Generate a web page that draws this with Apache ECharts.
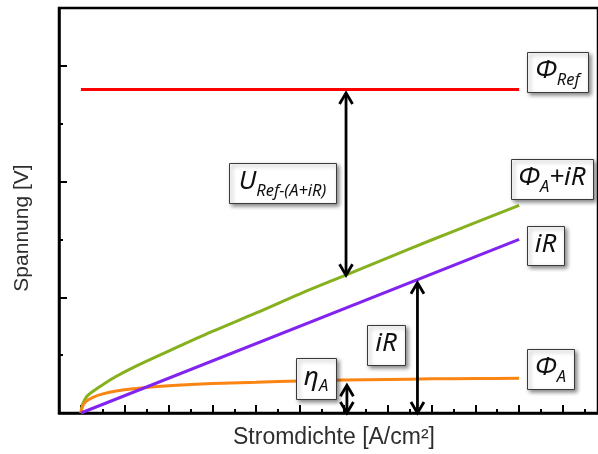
<!DOCTYPE html>
<html>
<head>
<meta charset="utf-8">
<script src="https://cdn.jsdelivr.net/npm/echarts@6/dist/echarts.min.js"></script>
<style>
  html, body { margin: 0; padding: 0; background: #fff; }
  #chart { width: 598px; height: 454px; }
</style>
</head>
<body>
<div id="chart"></div>
<script>
// Stromdichte-Stützstellen der gekrümmten Kurven
const currentPts = [0, 0.03, 0.08, 0.15, 0.3, 0.5, 0.8, 1.2, 2, 3, 4, 5, 6, 7, 8, 9, 10];
// Anodenpotential Φ_A
const phiA = [0, 0.1, 0.17, 0.22, 0.28, 0.33, 0.38, 0.42, 0.47, 0.51, 0.53, 0.555, 0.57, 0.58, 0.59, 0.595, 0.6];
// Φ_A + iR
const phiAiR = [0, 0.13, 0.22, 0.3, 0.39, 0.49, 0.63, 0.79, 1.07, 1.41, 1.73, 2.06, 2.37, 2.68, 2.99, 3.29, 3.59];
// ohmscher Spannungsabfall iR
const iRx = [0, 10];
const iRy = [0, 3.0];
// Referenzpotential Φ_Ref
const refX = [0, 10];
const refY = [5.59, 5.59];
// Doppelpfeile: Lage und Endpunkte
const arrowX = [6.05, 7.68, 6.07];
const arrowLow = [2.38, 0, 0];
const arrowHigh = [5.53, 2.25, 0.48];
// Achsenstriche
const xMajorTicks = [0, 1, 2, 3, 4, 5, 6, 7, 8, 9, 10, 11];
const xMinorTicks = [0.5, 1.5, 2.5, 3.5, 4.5, 5.5, 6.5, 7.5, 8.5, 9.5, 10.5, 11.5];
const yMajorTicks = [0, 2, 4, 6];
const yMinorTicks = [1, 3, 5, 7];

const chart = echarts.init(document.getElementById('chart'));

const pair = (xs, ys) => xs.map((x, i) => [x, ys[i]]);

// text measuring for the boxed annotations
const ctx = document.createElement('canvas').getContext('2d');
const LABEL_FONT = '"Noto Sans"';
function textWidth(t, size) {
  ctx.font = 'italic ' + size + 'px ' + LABEL_FONT;
  return ctx.measureText(t).width;
}

const MAIN = 26, SUB = 16.5;
const boxes = [
  { box: [527, 52, 61, 40], parts: [['Φ', 'm'], ['Ref', 's']] },
  { box: [229, 163, 107, 40], parts: [['U', 'm'], ['Ref-(A+iR)', 's']] },
  { box: [511, 159, 82, 40], parts: [['Φ', 'm'], ['A', 's'], ['+iR', 'm']] },
  { box: [527, 226, 37, 39], parts: [['iR', 'm']] },
  { box: [367, 325, 38, 40], parts: [['iR', 'm']] },
  { box: [296, 358, 40, 41], parts: [['η', 'm'], ['A', 's']] },
  { box: [527, 349, 47, 40], parts: [['Φ', 'm'], ['A', 's']] }
];

const graphics = [];
boxes.forEach(b => {
  const [bx, by, bw, bh] = b.box;
  graphics.push({
    type: 'rect',
    shape: { x: bx + 0.5, y: by + 0.5, width: bw, height: bh },
    style: {
      fill: '#fff', stroke: '#3a3a3a', lineWidth: 1,
      shadowBlur: 4, shadowOffsetX: 2, shadowOffsetY: 2, shadowColor: 'rgba(0,0,0,0.45)'
    },
    z: 100
  });
  const total = b.parts.reduce((s, p) => s + textWidth(p[0], p[1] === 'm' ? MAIN : SUB), 0);
  let cx = bx + bw / 2 - total / 2;
  const cy = by + bh / 2;
  b.parts.forEach(p => {
    const size = p[1] === 'm' ? MAIN : SUB;
    graphics.push({
      type: 'text',
      x: cx,
      y: p[1] === 'm' ? cy - 1 : cy + 8,
      style: {
        text: p[0], fill: '#111', fontSize: size, fontStyle: 'italic',
        fontFamily: LABEL_FONT, align: 'left', verticalAlign: 'middle'
      },
      z: 101
    });
    cx += textWidth(p[0], size);
  });
});

// axis titles
graphics.push({
  type: 'text', x: 22, y: 228, rotation: Math.PI / 2,
  style: { text: 'Spannung [V]', fill: '#2e2e2e', fontSize: 21, fontFamily: '"Liberation Sans", Arial, sans-serif', align: 'center', verticalAlign: 'middle' }
});
graphics.push({
  type: 'text', x: 334, y: 438,
  style: { text: 'Stromdichte [A/cm²]', fill: '#2e2e2e', fontSize: 23, fontFamily: '"Liberation Sans", Arial, sans-serif', align: 'center', verticalAlign: 'middle' }
});

const axisBase = {
  type: 'value',
  axisLabel: { show: false },
  splitLine: { show: false }
};

const option = {
  animation: false,
  backgroundColor: '#fff',
  grid: {
    left: 59, top: 8, width: 541.2, height: 405,
    show: true, borderColor: '#000', borderWidth: 2.5, backgroundColor: 'transparent'
  },
  xAxis: [
    Object.assign({}, axisBase, {
      min: -0.5, max: 11.8, position: 'bottom',
      axisLine: { show: true, onZero: false, lineStyle: { color: '#000', width: 2.5 } },
      axisTick: { show: true, inside: true, length: 8, customValues: xMajorTicks, lineStyle: { color: '#000', width: 2 } }
    }),
    Object.assign({}, axisBase, {
      min: -0.5, max: 11.8, position: 'bottom', offset: 0,
      axisLine: { show: false, onZero: false },
      axisTick: { show: true, inside: true, length: 4, customValues: xMinorTicks, lineStyle: { color: '#000', width: 2 } }
    })
  ],
  yAxis: [
    Object.assign({}, axisBase, {
      min: 0, max: 7, position: 'left',
      axisLine: { show: true, onZero: false, lineStyle: { color: '#000', width: 2.5 } },
      axisTick: { show: true, inside: true, length: 8, customValues: yMajorTicks, lineStyle: { color: '#000', width: 2 } }
    }),
    Object.assign({}, axisBase, {
      min: 0, max: 7, position: 'left', offset: 0,
      axisLine: { show: false, onZero: false },
      axisTick: { show: true, inside: true, length: 4, customValues: yMinorTicks, lineStyle: { color: '#000', width: 2 } }
    })
  ],
  series: [
    {
      name: 'Φ_Ref', type: 'line', data: pair(refX, refY), showSymbol: false,
      lineStyle: { color: '#ff0000', width: 3 }
    },
    {
      name: 'Φ_A+iR', type: 'line', data: pair(currentPts, phiAiR), showSymbol: false, smooth: 0.3,
      lineStyle: { color: '#86b11f', width: 3 }
    },
    {
      name: 'Φ_A', type: 'line', data: pair(currentPts, phiA), showSymbol: false, smooth: 0.3,
      lineStyle: { color: '#fb8512', width: 3 }
    },
    {
      name: 'iR', type: 'line', data: pair(iRx, iRy), showSymbol: false,
      lineStyle: { color: '#8224f0', width: 3 }
    },
    {
      name: 'Pfeile', type: 'custom', clip: false, z: 5,
      data: arrowX.map((x, i) => [x, arrowLow[i], arrowHigh[i]]),
      encode: { x: 0, y: [1, 2] },
      renderItem: function (params, api) {
        const x = api.value(0);
        const top = api.coord([x, api.value(2)]);
        const bot = api.coord([x, api.value(1)]);
        const len = bot[1] - top[1];
        const hh = Math.min(11, len / 2.5);
        const hw = 6.5;
        const st = { stroke: '#000', lineWidth: 2.8, fill: null, lineJoin: 'miter' };
        return {
          type: 'group',
          children: [
            { type: 'line', shape: { x1: top[0], y1: top[1] + 1, x2: bot[0], y2: bot[1] - 1 }, style: st },
            { type: 'polyline', shape: { points: [[top[0] - hw, top[1] + hh], [top[0], top[1]], [top[0] + hw, top[1] + hh]] }, style: st },
            { type: 'polyline', shape: { points: [[bot[0] - hw, bot[1] - hh], [bot[0], bot[1]], [bot[0] + hw, bot[1] - hh]] }, style: st }
          ]
        };
      }
    }
  ],
  graphic: graphics
};

chart.setOption(option);
</script>
</body>
</html>
